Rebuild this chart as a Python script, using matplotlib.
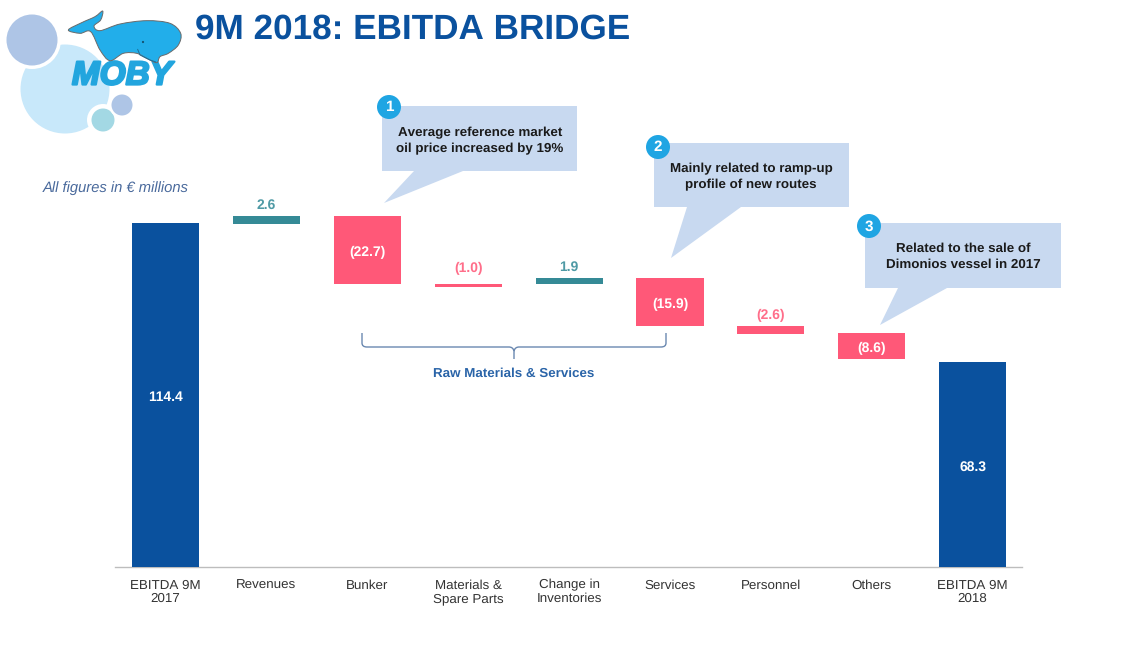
import matplotlib
matplotlib.use("Agg")
import matplotlib.pyplot as plt
from matplotlib.patches import Polygon, Circle, PathPatch
from matplotlib.path import Path
import matplotlib.patheffects as pe

plt.rcParams['font.family'] = ['Liberation Sans', 'DejaVu Sans']
plt.rcParams['text.hinting'] = 'no_hinting'
plt.rcParams['text.kerning_factor'] = 6

categories = ['EBITDA 9M\n2017', 'Revenues', 'Bunker', 'Materials &\nSpare Parts', 'Change in\nInventories',
              'Services', 'Personnel', 'Others', 'EBITDA 9M\n2018']
starts = [0, 114.2, 116.8, 94.2, 94.2, 96.1, 80.2, 77.7, 0]
deltas = [114.4, 2.6, -22.7, -1.0, 1.9, -15.9, -2.6, -8.6, 68.3]
labels = ['114.4', '2.6', '(22.7)', '(1.0)', '1.9', '(15.9)', '(2.6)', '(8.6)', '68.3']
kinds = ['total', 'up', 'down', 'down', 'up', 'down', 'down', 'down', 'total']
inside = [True, False, True, False, False, True, False, True, True]

W, H = 1134, 671
NAVY = '#0A519E'; TEAL = '#358A96'; PINK = '#FF5878'; CALL = '#C8D9F0'
bar_col = {'total': NAVY, 'up': TEAL, 'down': PINK}
txt_col = {'total': 'white', 'up': '#4F9AA5', 'down': '#FF6E8A'}

fig = plt.figure(figsize=(W / 100, H / 100), dpi=100, facecolor='white')

ax = fig.add_axes([115 / W, 1 - 567 / H, 907 / W, 391 / H])
ax.set_xlim(-0.5005, 8.489)
ax.set_ylim(0, 130)
ax.patch.set_alpha(0)
for i in range(len(categories)):
    lo = min(starts[i], starts[i] + deltas[i])
    ax.bar(i, abs(deltas[i]), bottom=lo, width=0.665, color=bar_col[kinds[i]], linewidth=0, zorder=3)
    if inside[i]:
        ax.annotate(labels[i], (i, lo + abs(deltas[i]) / 2), xytext=(0, -1.8), textcoords='offset points',
                    ha='center', va='center', color='white', fontsize=10, fontweight='bold', zorder=4)
    else:
        off = 8.6 if labels[i] == '(1.0)' else 4.8
        ax.annotate(labels[i], (i, lo + abs(deltas[i])), xytext=(0, off), textcoords='offset points',
                    ha='center', va='baseline', color=txt_col[kinds[i]], fontsize=10, fontweight='bold', zorder=4)
for s in ['top', 'left', 'right']:
    ax.spines[s].set_visible(False)
ax.spines['bottom'].set_color('#BDBDBD')
ax.spines['bottom'].set_linewidth(1.0)
ax.set_yticks([])
ax.set_xticks(range(len(categories)))
ax.set_xticklabels(categories, fontsize=9.6, color='#333333', linespacing=1.15)
ax.tick_params(axis='x', length=0, pad=8.9)

ov = fig.add_axes([0, 0, 1, 1])
ov.set_xlim(0, W)
ov.set_ylim(H, 0)
ov.axis('off')
ov.patch.set_alpha(0)


def disc(x, y, r, c, z=1):
    ov.add_patch(Circle((x, y), r, fc=c, ec='none', zorder=z))


def smooth(pts):
    n = len(pts)
    v = [pts[0]]
    c = [Path.MOVETO]
    for i in range(n):
        p0, p1, p2, p3 = pts[i - 1], pts[i], pts[(i + 1) % n], pts[(i + 2) % n]
        c1 = (p1[0] + (p2[0] - p0[0]) / 6, p1[1] + (p2[1] - p0[1]) / 6)
        c2 = (p2[0] - (p3[0] - p1[0]) / 6, p2[1] - (p3[1] - p1[1]) / 6)
        v += [c1, c2, p2]
        c += [Path.CURVE4] * 3
    return Path(v, c)


disc(65, 89, 44.5, '#C8E8FA', 1)
disc(32, 40, 29, 'white', 2)
disc(32, 40, 25.5, '#AEC5E6', 3)
disc(103, 120, 16, 'white', 2)
disc(103, 120, 11.5, '#A3D8E4', 3)
disc(122, 105, 13, 'white', 4)
disc(122, 105, 10.5, '#AEC5E6', 5)
ov.text(122, 76, 'MOBY', ha='center', va='center', fontsize=24, fontweight='bold', style='italic',
        color='#22A5DE', zorder=6,
        path_effects=[pe.withStroke(linewidth=1.6, foreground='#22A5DE')])
whale = [(205, 90), (245, 68), (285, 50), (308, 33), (302, 60), (282, 78), (300, 92), (360, 72), (440, 62),
         (510, 70), (542, 100), (535, 135), (505, 160), (480, 170), (470, 188), (440, 175), (410, 160),
         (370, 160), (330, 182), (300, 150), (272, 95), (240, 100)]
ov.add_patch(PathPatch(smooth([(x / 3, y / 3) for x, y in whale]), fc='#22AEEA', ec='#6A6A6A', lw=0.7, zorder=7))
ov.add_patch(PathPatch(Path([(137.5, 49), (140, 55), (150, 60), (156, 62)]), fc='none', ec='#1C6F99', lw=0.7, zorder=8))
disc(143, 42, 1.1, '#14506F', 8)

ov.text(195, 30, '9M 2018: EBITDA BRIDGE', ha='left', va='center', fontsize=25.3, fontweight='bold', color=NAVY)
ov.text(43, 188.5, 'All figures in € millions', ha='left', va='center', fontsize=10.65, style='italic',
        color='#4A6A9C')

callouts = [
    ((382, 106, 577, 171), [(414, 171), (384, 203), (463, 171)], (389, 107), '1', 480,
     ['Average reference market', 'oil price increased by 19%'], (132.5, 148.5)),
    ((654, 143, 849, 207), [(687, 207), (671, 258), (741, 207)], (658, 147), '2', 751,
     ['Mainly related to ramp-up', 'profile of new routes'], (168.5, 184.5)),
    ((865, 223, 1061, 288), [(898, 288), (880, 325), (947, 288)], (869, 226), '3', 963,
     ['Related to the sale of', 'Dimonios vessel in 2017'], (248.5, 264.5)),
]
for (l, t, r, b), tail, (cx, cy), num, tx, lines, ys in callouts:
    pts = [(l, t), (r, t), (r, b), tail[2], tail[1], tail[0], (l, b)]
    ov.add_patch(Polygon(pts, closed=True, fc=CALL, ec='none', zorder=2))
    ov.add_patch(Circle((cx, cy), 12, fc='#1FA5E3', ec='none', zorder=3))
    ov.text(cx, cy + 0.5, num, ha='center', va='center', color='white', fontsize=11, fontweight='bold', zorder=4)
    for line, y in zip(lines, ys):
        ov.text(tx, y, line, ha='center', va='center', fontsize=9.6, fontweight='bold', color='#1A1A1A', zorder=4)

verts = [(362, 333), (362, 343), (362, 347), (367, 347), (509, 347), (513, 347), (514, 351), (514, 359),
         (514, 351), (515, 347), (519, 347), (661, 347), (666, 347), (666, 343), (666, 333)]
codes = [Path.MOVETO, Path.LINETO, Path.CURVE3, Path.CURVE3, Path.LINETO, Path.CURVE3, Path.CURVE3, Path.LINETO,
         Path.MOVETO, Path.CURVE3, Path.CURVE3, Path.LINETO, Path.CURVE3, Path.CURVE3, Path.LINETO]
ov.add_patch(PathPatch(Path(verts, codes), fc='none', ec='#6A88B0', lw=1.0))
ov.text(514, 373.5, 'Raw Materials & Services', ha='center', va='center', fontsize=9.65, fontweight='bold',
        color='#2A64A8')

fig.savefig('out.png', dpi=100)
